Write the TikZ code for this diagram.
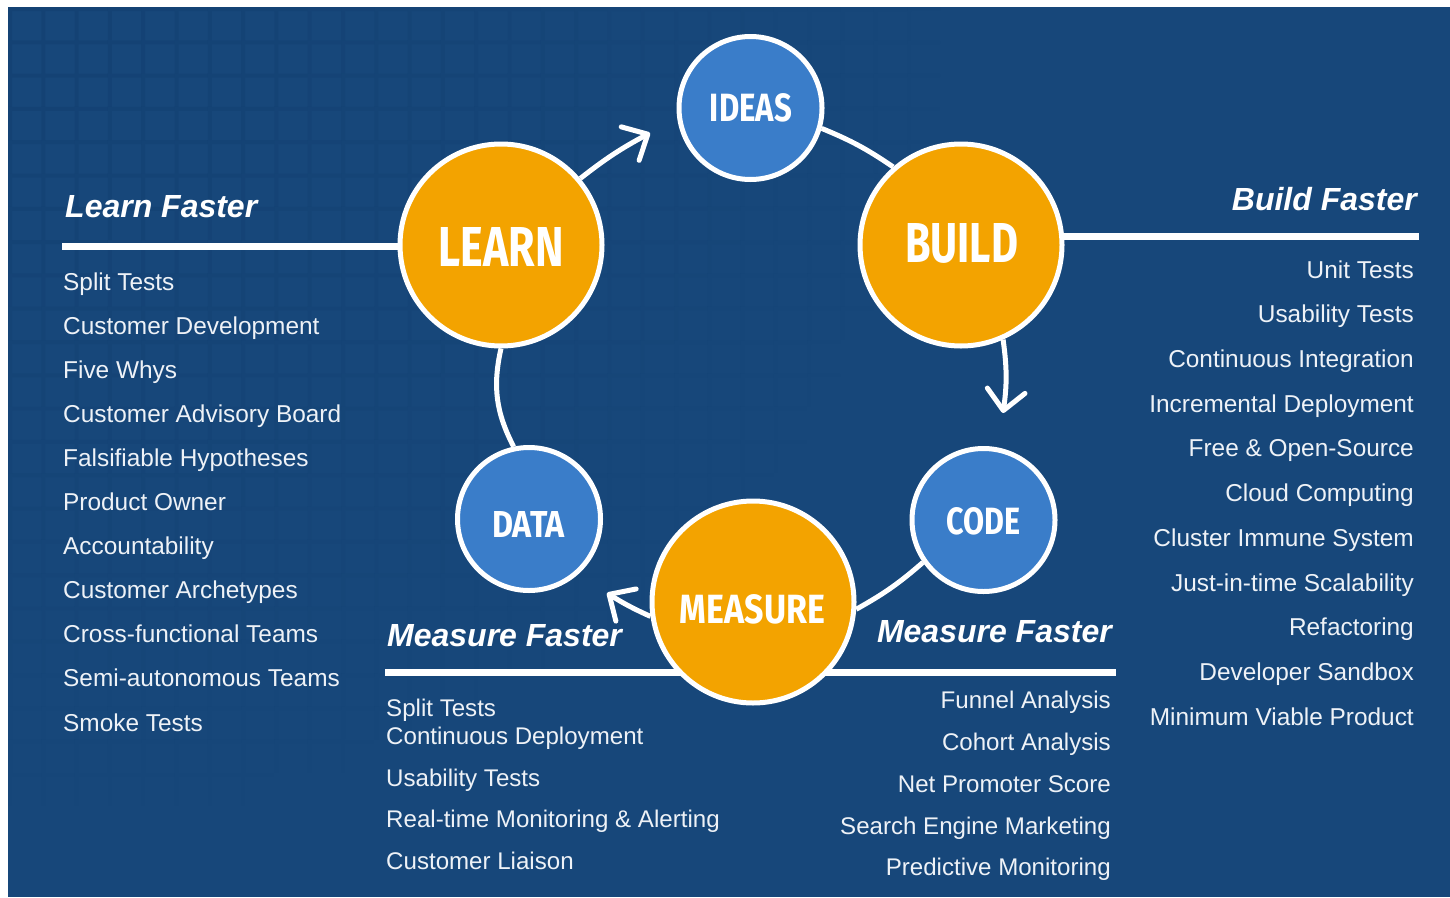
\documentclass[tikz,border=0pt]{standalone}
\usepackage{fontspec}
\usepackage{graphicx}
\setmainfont{Liberation Sans}
\newfontfamily\capfont{Fira Sans}
\usetikzlibrary{arrows.meta}

\definecolor{bgblue}{RGB}{23,71,122}
\definecolor{gridblue}{RGB}{14,56,104}
\definecolor{ringorange}{RGB}{243,163,0}
\definecolor{ringblue}{RGB}{58,125,201}
\definecolor{txt}{RGB}{238,242,247}

\pgfdeclarelayer{backdrop}
\pgfdeclarelayer{links}
\pgfsetlayers{backdrop,links,main}

\begin{document}
\begin{tikzpicture}[x=1pt,y=1pt,
  bigstep/.style={circle, draw=white, line width=5pt, fill=ringorange,
    minimum size=202pt, inner sep=0pt},
  smallstep/.style={circle, draw=white, line width=5pt, fill=ringblue,
    minimum size=143pt, inner sep=0pt},
  steplabel/.style={inner sep=0pt, text=white},
  link/.style={draw=white, line width=5pt},
  flow/.style={link, -{Straight Barb[length=20pt,width=38pt,round]}},
  rule/.style={draw=white, line width=7pt},
  head/.style={inner sep=0pt, text=white,
    font=\fontsize{32}{38}\selectfont\bfseries\itshape},
  item/.style={inner sep=0pt, text=txt, font=\fontsize{24.4}{29}\selectfont},
  subitem/.style={item, font=\fontsize{24.1}{29}\selectfont},
]
\useasboundingbox (0,0) rectangle (1450,-897);

% ---- the six stages of the loop
\node[smallstep] (ideas)   at (750.5,-108) {};
\node[bigstep]   (build)   at (961,-245)   {};
\node[smallstep] (code)    at (983.5,-520) {};
\node[bigstep]   (measure) at (753,-602)   {};
\node[smallstep] (data)    at (529,-519)   {};
\node[bigstep]   (learn)   at (501,-245)   {};

\node[steplabel] (ideasT)   at (751,-108)     {\resizebox{82pt}{28pt}{\capfont\bfseries IDEAS}};
\node[steplabel] (buildT)   at (961.5,-243.5) {\resizebox{113pt}{39pt}{\capfont\bfseries BUILD}};
\node[steplabel] (codeT)    at (983.7,-521.5) {\resizebox{74pt}{27pt}{\capfont\bfseries CODE}};
\node[steplabel] (measureT) at (752.5,-609.5) {\resizebox{145pt}{29pt}{\capfont\bfseries MEASURE}};
\node[steplabel] (dataT)    at (528.5,-524)   {\resizebox{73pt}{26pt}{\capfont\bfseries DATA}};
\node[steplabel] (learnT)   at (501,-247)     {\resizebox{125pt}{39pt}{\capfont\bfseries LEARN}};

% ---- section headings
\node[head, anchor=base west] (hLearn) at (65,-217)   {Learn Faster};
\node[head, anchor=base east] (hBuild) at (1417,-210) {Build Faster};
\node[head, anchor=base west] (hMeasL) at (387,-646)  {Measure Faster};
\node[head, anchor=base east] (hMeasR) at (1112,-642) {Measure Faster};

% ---- practice lists
\foreach \t [count=\k from 0] in {Split Tests, Customer Development, Five Whys,
    Customer Advisory Board, Falsifiable Hypotheses, Product Owner,
    Accountability, Customer Archetypes, Cross-functional Teams,
    Semi-autonomous Teams, Smoke Tests}
  \node[item, anchor=base west] (learnItem\k) at (63,-290-44.1*\k) {\t};

\foreach \t [count=\k from 0] in {Unit Tests, Usability Tests,
    Continuous Integration, Incremental Deployment, Free \& Open-Source,
    Cloud Computing, Cluster Immune System, Just-in-time Scalability,
    Refactoring, Developer Sandbox, Minimum Viable Product}
  \node[item, anchor=base east] (buildItem\k) at (1414,-278.3-44.67*\k) {\t};

\node[subitem, anchor=base west] (measL1) at (386,-716)   {Split Tests};
\node[subitem, anchor=base west] (measL2) at (386,-744.3) {Continuous Deployment};
\node[subitem, anchor=base west] (measL3) at (386,-786)   {Usability Tests};
\node[subitem, anchor=base west] (measL4) at (386,-827.7) {Real-time Monitoring \& Alerting};
\node[subitem, anchor=base west] (measL5) at (386,-869.3) {Customer Liaison};

\node[subitem, anchor=base east] (measR1) at (1111,-708.3) {Funnel Analysis};
\node[subitem, anchor=base east] (measR2) at (1111,-750.7) {Cohort Analysis};
\node[subitem, anchor=base east] (measR3) at (1111,-792.3) {Net Promoter Score};
\node[subitem, anchor=base east] (measR4) at (1111,-834)   {Search Engine Marketing};
\node[subitem, anchor=base east] (measR5) at (1111,-875)   {Predictive Monitoring};

% ---- connectors and rules, under the circles
\coordinate (tipA) at (650,-133);
\coordinate (tipB) at (1003,-413);
\coordinate (tipC) at (607,-593);
\coordinate (ruleL)  at (62,-246);
\coordinate (ruleR)  at (1419,-236);
\coordinate (ruleML) at (385,-672);
\coordinate (ruleMR) at (1116,-672);
\begin{pgfonlayer}{links}
  \draw[flow] (learn.40) to[bend left=5] (tipA);
  \draw[link] (ideas.-16) to[bend left=6] (build.131);
  \draw[flow] (build.-66) to[bend left=8] (tipB);
  \draw[link] (code.215) to[bend left=6] (measure.-4);
  \draw[flow] (measure.188) to[bend left=4] (tipC);
  \draw[link] (data.102) to[bend left=20] (learn.-90);
  \draw[rule] (ruleL) -- (ruleL -| learn.center);
  \draw[rule] (ruleR) -- (ruleR -| build.center);
  \draw[rule] (ruleML) -- (ruleMR);
\end{pgfonlayer}

% ---- backdrop with its faint tile grid
\begin{pgfonlayer}{backdrop}
  \fill[white] (0,0) rectangle (1450,-897);
  \fill[bgblue] (8,-7) rectangle (1450,-897);
  \foreach \i in {0,...,28} {
    \foreach \j in {0,...,25} {
      \pgfmathsetmacro\op{max(0,0.32*(1-sqrt((\i*33.3/920)^2+(\j*33.3/800)^2)))}
      \fill[gridblue, opacity=\op]
        (8+\i*33.3,-7-\j*33.3) rectangle ++(4,-33.3)
        (12+\i*33.3,-7-\j*33.3) rectangle ++(29.3,-4);
    }
  }
\end{pgfonlayer}
\end{tikzpicture}
\end{document}
